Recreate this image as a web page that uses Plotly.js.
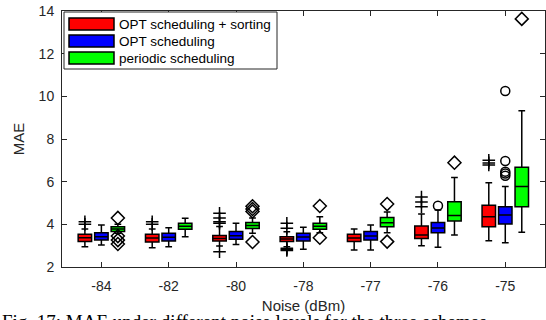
<!DOCTYPE html>
<html>
<head>
<meta charset="utf-8">
<script src="https://cdn.plot.ly/plotly-3.0.1.min.js"></script>
<style>
  html, body { margin: 0; padding: 0; background: #fff; }
  #chart { width: 546px; height: 320px; }
</style>
</head>
<body>
<div id="chart"></div>
<script>
// ---------------- data ----------------
const categories = ['-84', '-82', '-80', '-78', '-77', '-76', '-75'];
const seriesNames = ['OPT scheduling + sorting', 'OPT scheduling', 'periodic scheduling'];

// OPT scheduling + sorting
const sortLo  = [2.95, 2.90, 2.98, 2.95, 2.80, 3.00, 3.23];
const sortQ1  = [3.20, 3.17, 3.22, 3.20, 3.19, 3.34, 3.89];
const sortMed = [3.37, 3.36, 3.34, 3.31, 3.36, 3.50, 4.36];
const sortQ3  = [3.53, 3.53, 3.48, 3.42, 3.53, 3.92, 4.89];
const sortHi  = [3.78, 3.78, 3.90, 3.65, 3.78, 4.48, 5.95];
const sortOutCat = [0, 0, 1, 1, 2, 2, 2, 2, 2, 3, 3, 3, 3, 3, 5, 5, 5, 6, 6, 6];
const sortOutVal = [4.00, 4.12, 4.00, 4.12, 4.05, 4.12, 4.30, 4.52, 2.72, 3.82, 4.05, 2.88, 2.82, 2.77, 4.82, 5.05, 5.28, 6.78, 6.88, 7.00];

// OPT scheduling
const optLo  = [3.03, 2.95, 3.06, 2.83, 2.80, 2.92, 3.14];
const optQ1  = [3.27, 3.22, 3.30, 3.22, 3.27, 3.61, 4.02];
const optMed = [3.42, 3.39, 3.47, 3.41, 3.45, 3.83, 4.44];
const optQ3  = [3.61, 3.58, 3.66, 3.58, 3.66, 4.09, 4.83];
const optHi  = [3.97, 3.84, 4.05, 3.86, 3.97, 4.67, 5.77];
const optOutCat = [5, 6, 6, 6, 6, 6];
const optOutVal = [4.87, 6.28, 6.38, 6.47, 6.97, 10.25];

// periodic scheduling
const perLo  = [3.58, 3.42, 3.58, 3.61, 3.60, 3.50, 3.63];
const perQ1  = [3.66, 3.77, 3.81, 3.77, 3.89, 4.16, 4.83];
const perMed = [3.78, 3.91, 3.95, 3.91, 4.08, 4.41, 5.77];
const perQ3  = [3.89, 4.05, 4.09, 4.05, 4.32, 5.06, 6.67];
const perHi  = [4.00, 4.28, 4.30, 4.36, 4.58, 6.19, 9.33];
const perOutCat = [0, 0, 0, 0, 2, 2, 2, 2, 3, 3, 4, 4, 5, 6];
const perOutVal = [4.30, 3.45, 3.26, 3.08, 4.60, 4.72, 4.85, 3.17, 4.86, 3.37, 4.95, 3.19, 6.89, 13.63];

const yTicks = [2, 4, 6, 8, 10, 12, 14];

// ---------------- styles ----------------
const colors  = ['#ff0000', '#0000ff', '#00ff00'];
const offsets = [-0.245, 0, 0.245];
const symbols = ['cross-thin-open', 'circle-open', 'diamond-open'];
const symSizes = [9, 9, 10];
const axisColor = '#262626';
const W = 546, H = 320;
const M = { l: 62, r: 1, t: 11, b: 53 };
const plotW = W - M.l - M.r, plotH = H - M.t - M.b;
const px = x => (x - M.l) / plotW;
const py = y => (H - M.b - y) / plotH;

const series = [
  { lo: sortLo, q1: sortQ1, med: sortMed, q3: sortQ3, hi: sortHi, oc: sortOutCat, ov: sortOutVal },
  { lo: optLo,  q1: optQ1,  med: optMed,  q3: optQ3,  hi: optHi,  oc: optOutCat,  ov: optOutVal },
  { lo: perLo,  q1: perQ1,  med: perMed,  q3: perQ3,  hi: perHi,  oc: perOutCat,  ov: perOutVal }
];

const traces = [];
series.forEach((s, k) => {
  traces.push({
    type: 'box',
    name: seriesNames[k],
    x: categories.map((c, i) => i + 1 + offsets[k]),
    q1: s.q1, median: s.med, q3: s.q3,
    lowerfence: s.lo, upperfence: s.hi,
    width: 0.2,
    whiskerwidth: 0.5,
    boxpoints: false,
    fillcolor: colors[k],
    line: { color: '#000', width: 1.5 },
    hoverinfo: 'skip',
    showlegend: false
  });
  traces.push({
    type: 'scatter',
    mode: 'markers',
    x: s.oc.map(i => i + 1 + offsets[k]),
    y: s.ov,
    marker: { symbol: symbols[k], size: symSizes[k], color: '#000', line: { color: '#000', width: 1.5 } },
    hoverinfo: 'skip',
    showlegend: false,
    cliponaxis: false
  });
});

// legend drawn as shapes + annotations
const shapes = [];
const annotations = [];
shapes.push({
  type: 'rect', xref: 'paper', yref: 'paper',
  x0: px(64), x1: px(277), y0: py(69), y1: py(12),
  fillcolor: '#fff', line: { color: axisColor, width: 1 }, layer: 'above'
});
const rowY = [24, 41, 58];
seriesNames.forEach((n, k) => {
  shapes.push({
    type: 'rect', xref: 'paper', yref: 'paper',
    x0: px(69), x1: px(114), y0: py(rowY[k] + 6), y1: py(rowY[k] - 6),
    fillcolor: colors[k], line: { color: '#000', width: 1.5 }, layer: 'above'
  });
  annotations.push({
    xref: 'paper', yref: 'paper', x: px(117), y: py(rowY[k]),
    xanchor: 'left', yanchor: 'middle', showarrow: false,
    text: n, font: { family: 'Liberation Sans, Arial, sans-serif', size: 13.5, color: '#000' }
  });
});
// caption (clipped by the page bottom, as in the reference)
annotations.push({
  xref: 'paper', yref: 'paper', x: px(0), y: py(309),
  xanchor: 'left', yanchor: 'top', showarrow: false,
  text: 'Fig. 17: MAE under different noise levels for the three schemes.',
  font: { family: 'Liberation Serif, Times New Roman, serif', size: 19, color: '#000' }
});

const layout = {
  width: W, height: H,
  margin: M,
  paper_bgcolor: '#fff', plot_bgcolor: '#fff',
  showlegend: false,
  font: { family: 'Liberation Sans, Arial, sans-serif', color: axisColor },
  xaxis: {
    range: [0.415, 7.59],
    tickvals: categories.map((c, i) => i + 1),
    ticktext: categories,
    ticks: 'inside', ticklen: 5, tickcolor: axisColor, tickwidth: 1,
    showline: true, mirror: 'ticks', linecolor: axisColor, linewidth: 1,
    showgrid: false, zeroline: false,
    tickfont: { size: 14, color: axisColor },
    ticklabelstandoff: 6,
    title: { text: 'Noise (dBm)', font: { size: 15, color: axisColor }, standoff: 7 }
  },
  yaxis: {
    range: [2, 14],
    tickvals: yTicks,
    ticktext: yTicks.map(String),
    ticks: 'inside', ticklen: 5, tickcolor: axisColor, tickwidth: 1,
    showline: true, mirror: 'ticks', linecolor: axisColor, linewidth: 1,
    showgrid: false, zeroline: false,
    tickfont: { size: 14, color: axisColor },
    ticklabelstandoff: 4,
    title: { text: 'MAE', font: { size: 15, color: axisColor }, standoff: 10 }
  },
  shapes: shapes,
  annotations: annotations
};

Plotly.newPlot('chart', traces, layout, { staticPlot: true, displayModeBar: false });
</script>
</body>
</html>
